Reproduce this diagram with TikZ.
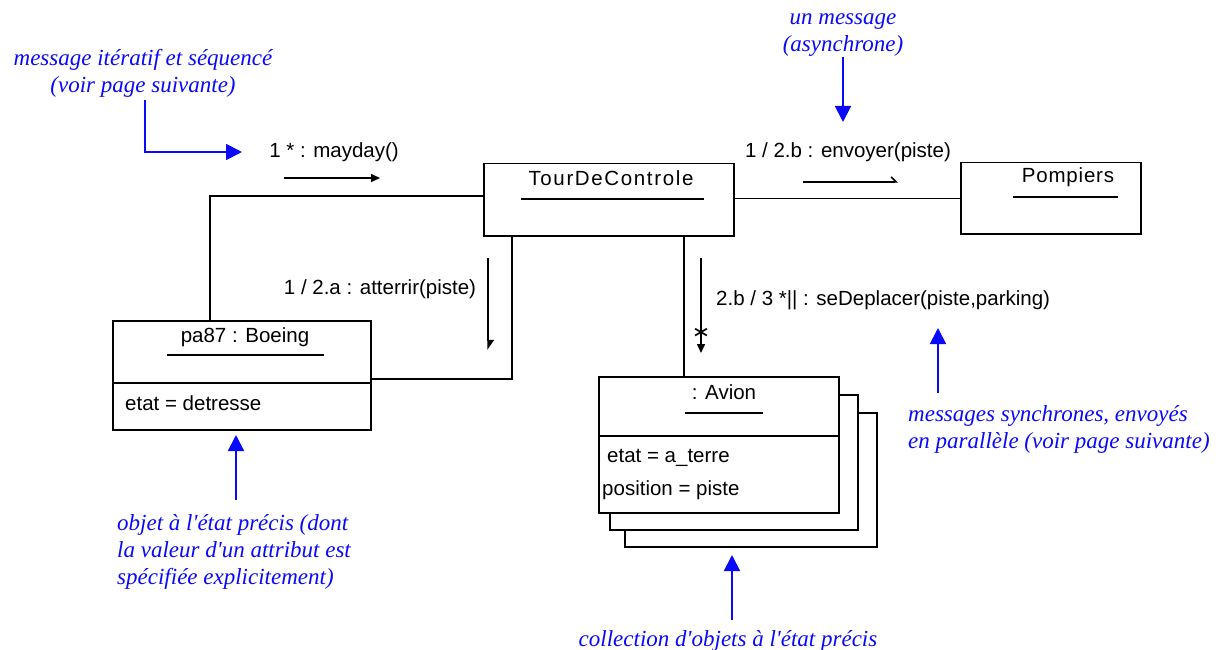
\documentclass[tikz,border=0pt]{standalone}
\usepackage{fontspec}
\setmainfont{Liberation Sans}
\newfontfamily\notefont{Liberation Serif}
\newfontfamily\symfont{DejaVu Sans}
\usetikzlibrary{arrows.meta}
\definecolor{noteblue}{RGB}{10,10,250}
\begin{document}
\begin{tikzpicture}[x=1pt,y=-1pt,
  objbox/.style={draw, line width=1.5pt, fill=white, inner sep=0pt},
  lbl/.style={font=\fontsize{20.5}{24}\selectfont, inner sep=0pt},
  note/.style={font=\notefont\itshape\fontsize{23}{27}\selectfont, text=noteblue, inner sep=0pt},
  notearrow/.style={draw=noteblue, line width=1.8pt, -{Triangle[length=16pt,width=16pt]}},
  msg/.style={line width=1.5pt, -{Triangle[length=9pt,width=8pt]}},
  link/.style={line width=1.5pt}
]
\path[fill=white] (0,0) rectangle (1224,650);
\useasboundingbox (0,0) rectangle (1224,650);

% object boxes
\node[objbox, anchor=north west, minimum width=250pt, minimum height=72pt] (tour) at (483,163) {};
\node[objbox, anchor=north west, minimum width=180pt, minimum height=71pt] (pomp) at (960,162) {};
\node[objbox, anchor=north west, minimum width=258pt, minimum height=109pt] (boeing) at (112,320) {};
\node[objbox, anchor=north west, minimum width=252pt, minimum height=134pt] (avion3) at (624,412) {};
\node[objbox, anchor=north west, minimum width=248pt, minimum height=135pt] (avion2) at (609,394) {};
\node[objbox, anchor=north west, minimum width=240pt, minimum height=136pt] (avion) at (598,376) {};

% names and compartments
\node[lbl] (tourname) at (611,178) {\addfontfeature{LetterSpace=8}TourDeControle};
\draw[link] (521,199) -- (704,199);
\node[lbl] (pompname) at (1068,177) {\addfontfeature{LetterSpace=4}Pompiers};
\draw[link] (1013,197) -- (1118,197);
\node[lbl] (boeingname) at (245,337) {pa87 : Boeing};
\draw[link] (167,355) -- (324,355);
\draw[link] (boeing.west |- 0,383) -- (boeing.east |- 0,383);
\node[lbl, anchor=west] (boeingattr) at (125,403) {etat = detresse};
\node[lbl] (avionname) at (724,392) {: Avion};
\draw[link] (685,413) -- (763,413);
\draw[link] (avion.west |- 0,436) -- (avion.east |- 0,436);
\node[lbl, anchor=west] (avionattr1) at (607,458) {etat = a\_terre};
\node[lbl, anchor=west] (avionattr2) at (602,490) {position = piste};

% links
\draw[link] ([xshift=98pt]boeing.north west) |- ([yshift=4pt]tour.west);
\draw[link] (tour.east |- pomp.west) -- (pomp.west);
\draw[link] ([xshift=29pt]tour.south west) |- ([yshift=-3.5pt]boeing.east);
\coordinate (ta) at ([xshift=201pt]tour.south west);
\draw[link] (ta) -- (ta |- avion.north);

% messages
\coordinate (m1s) at (284,178); \coordinate (m1e) at (380,178);
\draw[msg] (m1s) -- (m1e);
\node[lbl] (m1) at (334,152) {1 * : mayday()};

\coordinate (m2s) at (803,182); \coordinate (m2e) at (898,182);
\draw[line width=1.5pt, -{Straight Barb[harpoon,length=5pt,width=10pt]}] (m2s) -- (m2e);
\node[lbl] (m2) at (848,152) {1 / 2.b : envoyer(piste)};

\coordinate (m3s) at (488,258); \coordinate (m3e) at (488,350);
\draw[line width=1.5pt, -{Triangle[harpoon,length=9pt,width=12pt]}] (m3s) -- (m3e);
\node[lbl] (m3) at (380,289) {1 / 2.a : atterrir(piste)};

\coordinate (m4s) at (701,258); \coordinate (m4e) at (701,353);
\draw[msg] (m4s) -- (m4e);
\node[font=\symfont\fontsize{22}{22}\selectfont, inner sep=0pt] (m4star) at (701,333) {∗};
\node[lbl, anchor=west] (m4) at (716,300) {2.b / 3 *|| : seDeplacer(piste,parking)};

% notes
\node[note, align=center] (n1) at (143,73) {message itératif et séquencé\\(voir page suivante)};
\coordinate (n1a) at (145,100); \coordinate (n1b) at (242,152);
\draw[notearrow] (n1a) |- (n1b);

\node[note, align=center] (n2) at (843,35) {un message\\(asynchrone)};
\coordinate (n2a) at (843,57); \coordinate (n2b) at (843,122);
\draw[notearrow] (n2a) -- (n2b);

\node[note, align=left, anchor=north west] (n3) at (908,405) {messages synchrones, envoyés\\en parallèle (voir page suivante)};
\coordinate (n3a) at (938,393); \coordinate (n3b) at (938,328);
\draw[notearrow] (n3a) -- (n3b);

\node[note, align=left, anchor=north west] (n4) at (117,514) {objet à l'état précis (dont\\la valeur d'un attribut est\\spécifiée explicitement)};
\coordinate (n4a) at (236,500); \coordinate (n4b) at (236,435);
\draw[notearrow] (n4a) -- (n4b);

\node[note] (n5) at (728,641) {collection d'objets à l'état précis};
\coordinate (n5a) at (732,620); \coordinate (n5b) at (732,555);
\draw[notearrow] (n5a) -- (n5b);
\end{tikzpicture}
\end{document}
